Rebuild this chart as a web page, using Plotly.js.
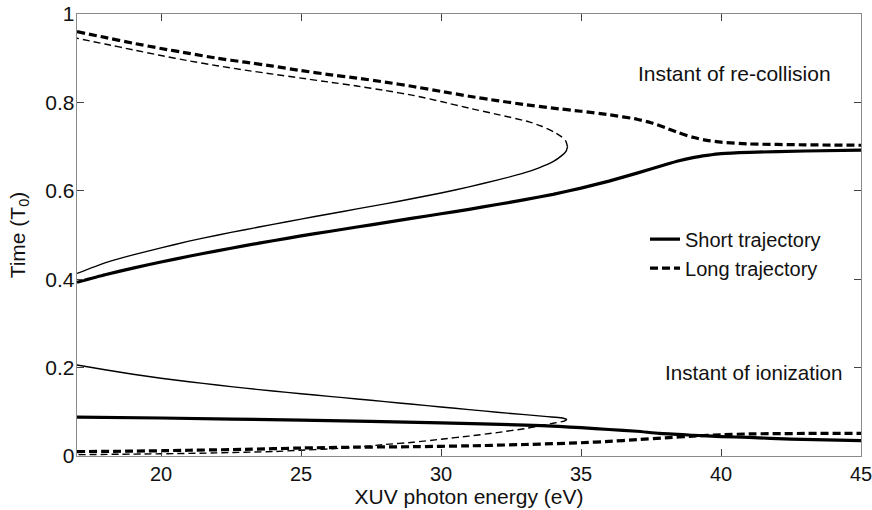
<!DOCTYPE html>
<html>
<head>
<meta charset="utf-8">
<script src="https://cdn.plot.ly/plotly-3.0.1.min.js"></script>
<style>
  html, body { margin: 0; padding: 0; background: #fff; }
  #chart { width: 872px; height: 510px; }
</style>
</head>
<body>
<div id="chart"></div>
<script>
// Photon energy (eV) and instants (in optical cycles T0) for the
// re-collision and ionization branches of short and long trajectories.

// Re-collision, short trajectory (thick solid)
const recShortX = [17, 18, 19, 20, 21, 22, 23, 24, 25, 26, 27, 28, 29, 30, 31, 32, 33, 34, 35, 36, 37, 38, 38.5, 39, 39.5, 40, 41, 43, 45];
const recShortY = [0.393, 0.410, 0.425, 0.439, 0.452, 0.464, 0.476, 0.487, 0.498, 0.508, 0.518, 0.528, 0.538, 0.548, 0.558, 0.569, 0.580, 0.592, 0.606, 0.622, 0.640, 0.659, 0.668, 0.675, 0.680, 0.684, 0.687, 0.690, 0.692];

// Re-collision, long trajectory (thick dashed)
const recLongX = [17, 18, 19, 20, 21, 22, 23, 24, 25, 26, 27, 28, 29, 30, 31, 32, 33, 34, 35, 36, 37, 37.5, 38, 38.5, 39, 39.5, 40, 41, 43, 45];
const recLongY = [0.960, 0.947, 0.934, 0.922, 0.911, 0.900, 0.891, 0.882, 0.872, 0.863, 0.855, 0.846, 0.836, 0.825, 0.814, 0.804, 0.795, 0.787, 0.780, 0.772, 0.762, 0.754, 0.743, 0.731, 0.721, 0.714, 0.710, 0.706, 0.704, 0.703];

// Re-collision, second model: lower (solid) and upper (dashed) branches meeting at the cutoff
const recModelShortX = [17, 18, 19, 20, 21, 22, 23, 24, 25, 26, 27, 28, 29, 30, 31, 32, 33, 33.5, 34.0, 34.3, 34.47, 34.52];
const recModelShortY = [0.413, 0.437, 0.455, 0.471, 0.486, 0.4995, 0.512, 0.524, 0.536, 0.5475, 0.559, 0.5705, 0.5825, 0.595, 0.609, 0.624, 0.641, 0.652, 0.666, 0.679, 0.690, 0.700];
const recModelLongX = [34.52, 34.46, 34.31, 34.04, 33.6, 33.15, 32, 31, 30, 29, 28, 27, 26, 25, 24, 23, 22, 21, 20, 19, 18, 17];
const recModelLongY = [0.700, 0.712, 0.722, 0.733, 0.746, 0.756, 0.773, 0.787, 0.802, 0.816, 0.827, 0.837, 0.846, 0.855, 0.864, 0.873, 0.883, 0.894, 0.906, 0.919, 0.932, 0.945];

// Ionization, short trajectory (thick solid)
const ionShortX = [17, 20, 25, 30, 33, 34.2, 35, 36, 37, 37.8, 39, 40, 41, 42.5, 45];
const ionShortY = [0.088, 0.086, 0.081, 0.075, 0.070, 0.067, 0.064, 0.060, 0.056, 0.051, 0.047, 0.044, 0.042, 0.038, 0.035];

// Ionization, long trajectory (thick dashed)
const ionLongX = [17, 19, 21, 23, 25, 27, 29, 31, 33, 35, 36, 37, 38, 39, 40, 41, 43, 45];
const ionLongY = [0.010, 0.011, 0.013, 0.015, 0.018, 0.020, 0.021, 0.023, 0.026, 0.030, 0.033, 0.037, 0.041, 0.045, 0.048, 0.050, 0.051, 0.051];

// Ionization, second model: upper (solid) and lower (dashed) branches
const ionModelShortX = [17, 18, 19, 20, 21, 22, 23, 24, 25, 26, 27, 28, 29, 30, 31, 32, 33, 33.8, 34.3, 34.5];
const ionModelShortY = [0.206, 0.195, 0.185, 0.176, 0.168, 0.1605, 0.1535, 0.147, 0.141, 0.135, 0.129, 0.123, 0.117, 0.111, 0.105, 0.099, 0.0935, 0.089, 0.0865, 0.083];
const ionModelLongX = [34.5, 34.4, 34.0, 33.5, 33, 32, 31, 30, 29, 28, 27, 26, 25, 24, 22, 20, 17];
const ionModelLongY = [0.083, 0.079, 0.074, 0.068, 0.062, 0.053, 0.045, 0.038, 0.031, 0.026, 0.020, 0.016, 0.013, 0.010, 0.007, 0.005, 0.003];

// Axis ticks
const xTicks = [20, 25, 30, 35, 40, 45];
const yTicks = [0, 0.2, 0.4, 0.6, 0.8, 1];
const yTickText = ['0', '0.2', '0.4', '0.6', '0.8', '1'];

const FONT = '"Liberation Sans", Arial, Helvetica, sans-serif';
const FS = 21;
const THICK = 3.2, THIN = 1.4;

function curve(x, y, width, dash, name, legend) {
  return {
    type: 'scatter', mode: 'lines', x: x, y: y,
    line: { color: '#000', width: width, dash: dash, shape: 'spline', smoothing: 0.5 },
    name: name || 'branch', showlegend: !!legend, hoverinfo: 'skip'
  };
}

const data = [
  curve(recModelShortX, recModelShortY, THIN, 'solid'),
  curve(recModelLongX, recModelLongY, THIN, '7px,4px'),
  curve(ionModelShortX, ionModelShortY, THIN, 'solid'),
  curve(ionModelLongX, ionModelLongY, THIN, '7px,4px'),
  curve(recShortX, recShortY, THICK, 'solid', 'Short trajectory', true),
  curve(recLongX, recLongY, THICK, '8px,4px', 'Long trajectory', true),
  curve(ionShortX, ionShortY, THICK, 'solid'),
  curve(ionLongX, ionLongY, THICK, '8px,4px')
];

const axisCommon = {
  showline: true, linecolor: '#8a8a8a', linewidth: 1.3, mirror: 'ticks',
  ticks: 'inside', ticklen: 7, tickwidth: 1, tickcolor: '#444',
  showgrid: false, zeroline: false, ticklabeloverflow: 'allow',
  tickfont: { family: FONT, size: 20, color: '#111' }
};

const layout = {
  width: 872, height: 510,
  margin: { l: 77, r: 11, t: 14, b: 54 },
  paper_bgcolor: '#fff', plot_bgcolor: '#fff',
  font: { family: FONT, color: '#111' },
  showlegend: true,
  legend: {
    x: 0.7245, y: 0.535, xanchor: 'left', yanchor: 'top',
    bgcolor: 'rgba(0,0,0,0)', borderwidth: 0,
    font: { family: FONT, size: 20, color: '#111' },
    tracegroupgap: 0
  },
  xaxis: Object.assign({}, axisCommon, {
    range: [17, 45], tickvals: xTicks, ticktext: xTicks.map(String),
    title: { text: 'XUV photon energy (eV)', font: { family: FONT, size: FS, color: '#111' }, standoff: 2 }
  }),
  yaxis: Object.assign({}, axisCommon, {
    range: [0, 1], tickvals: yTicks, ticktext: yTickText, ticklabelstandoff: -3,
    tickfont: { family: FONT, size: FS, color: '#111' },
    title: { text: 'Time (T<sub>0</sub>)', font: { family: FONT, size: FS, color: '#111' }, standoff: 14 }
  }),
  annotations: [
    { text: 'Instant of re-collision', xref: 'x', yref: 'y', x: 44.01, y: 0.8665,
      xanchor: 'right', yanchor: 'middle', showarrow: false,
      font: { family: FONT, size: FS, color: '#111' } },
    { text: 'Instant of ionization', xref: 'x', yref: 'y', x: 44.4, y: 0.188,
      xanchor: 'right', yanchor: 'middle', showarrow: false,
      font: { family: FONT, size: 20.6, color: '#111' } }
  ]
};

Plotly.newPlot('chart', data, layout, { displayModeBar: false, staticPlot: true });
</script>
</body>
</html>
